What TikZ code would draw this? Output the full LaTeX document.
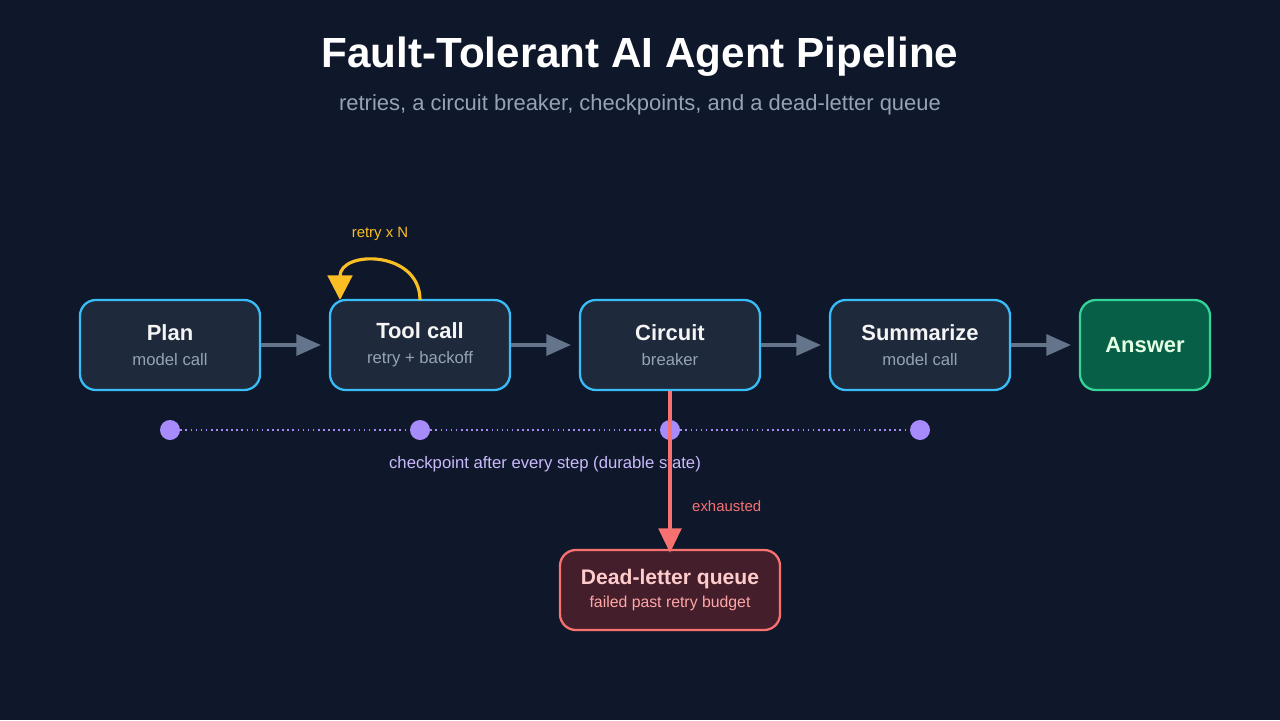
\documentclass[tikz,border=0pt]{standalone}
\usepackage{fontspec}
\setmainfont{Liberation Sans}
\usetikzlibrary{arrows.meta}
\definecolor{bgc}{HTML}{0F172A}
\definecolor{boxc}{HTML}{1E293B}
\definecolor{edgec}{HTML}{38BDF8}
\definecolor{ansfill}{HTML}{065F46}
\definecolor{ansedge}{HTML}{34D399}
\definecolor{deadfill}{HTML}{451E2C}
\definecolor{deadedge}{HTML}{F87171}
\definecolor{subc}{HTML}{94A3B8}
\definecolor{arrc}{HTML}{64748B}
\definecolor{ckc}{HTML}{A78BFA}
\definecolor{yelc}{HTML}{FBBF24}
\tikzset{
  stage/.style={draw=edgec,fill=boxc,line width=1.3pt,rounded corners=9pt,minimum width=180*0.02cm,minimum height=90*0.02cm,align=center,text=white!92!gray},
  flow/.style={draw=arrc,line width=1.8pt,-{Triangle[length=14pt,width=12pt]}},
  ckdot/.style={circle,fill=ckc,inner sep=0pt,minimum size=20*0.02cm},
}
\begin{document}
\begin{tikzpicture}[x=0.02cm,y=-0.02cm]
  \fill[bgc] (0,0) rectangle (1280,720);
  \node[text=white,font=\bfseries\fontsize{24}{28}\selectfont] (title) at (640,57) {Fault-Tolerant AI Agent Pipeline};
  \node[text=subc,font=\fontsize{12.5}{15}\selectfont] (subtitle) at (640,105) {retries, a circuit breaker, checkpoints, and a dead-letter queue};

  % pipeline stages
  \node[stage] (plan) at (170,345) {{\bfseries\fontsize{12.5}{15}\selectfont Plan}\\[2pt]{\color{subc}\fontsize{9.5}{11}\selectfont model call}};
  \node[stage] (tool) at (420,345) {{\bfseries\fontsize{12.5}{15}\selectfont Tool call}\\[2pt]{\color{subc}\fontsize{9.5}{11}\selectfont retry + backoff}};
  \node[stage] (circ) at (670,345) {{\bfseries\fontsize{12.5}{15}\selectfont Circuit}\\[2pt]{\color{subc}\fontsize{9.5}{11}\selectfont breaker}};
  \node[stage] (summ) at (920,345) {{\bfseries\fontsize{12.5}{15}\selectfont Summarize}\\[2pt]{\color{subc}\fontsize{9.5}{11}\selectfont model call}};
  \node[stage,draw=ansedge,fill=ansfill,minimum width=130*0.02cm,text=green!10!white,font=\bfseries\fontsize{12.5}{15}\selectfont] (answer) at (1145,345) {Answer};
  \node[stage,draw=deadedge,fill=deadfill,minimum width=220*0.02cm,minimum height=80*0.02cm] (dead) at (670,590) {{\bfseries\color{red!20!white}\fontsize{12}{14}\selectfont Dead-letter queue}\\[1pt]{\color{red!35!white}\fontsize{9}{11}\selectfont failed past retry budget}};

  \draw[flow] (plan) -- ([xshift=-8*0.02cm]tool.west);
  \draw[flow] (tool) -- ([xshift=-8*0.02cm]circ.west);
  \draw[flow] (circ) -- ([xshift=-8*0.02cm]summ.west);
  \draw[flow] (summ) -- ([xshift=-8*0.02cm]answer.west);

  % retry loop
  \coordinate (loopa) at (420,300);
  \coordinate (loopb) at (340,300);
  \draw[yelc,line width=1.8pt,-{Triangle[length=14pt,width=14pt]}] (loopa) .. controls (420,250) and (340,250) .. (loopb);
  \node[text=yelc,font=\fontsize{8.5}{10}\selectfont] (retry) at (380,234) {retry x N};

  % checkpoints
  \foreach \x/\n in {170/c1,420/c2,670/c3,920/c4}
    \node[ckdot] (\n) at (\x,430) {};
  \draw[ckc,line width=0.9pt,dotted] (c1) -- (c2) (c2) -- (c3) (c3) -- (c4);
  \node[text=ckc!60!white,font=\fontsize{9.5}{11}\selectfont] (cklabel) at (545,464) {checkpoint after every step (durable state)};

  % dead-letter path
  \draw[deadedge,line width=1.8pt,-{Triangle[length=14pt,width=13pt]}] (circ) -- ([yshift=-4*0.02cm]dead.north);
  \node[text=deadedge,anchor=west,font=\fontsize{8.5}{10}\selectfont] (exh) at (686,506) {exhausted};
\end{tikzpicture}
\end{document}
